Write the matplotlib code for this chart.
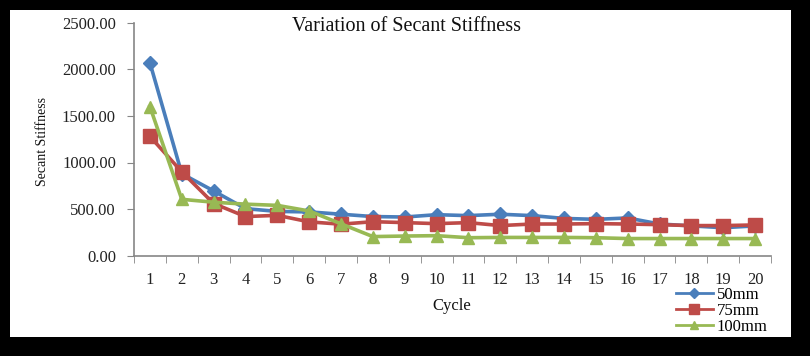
import matplotlib
matplotlib.use("Agg")
import matplotlib.pyplot as plt
from matplotlib.patches import Rectangle

cycles = list(range(1, 21))
tick_labels = [str(c) for c in cycles]
s50 = [2070, 880, 695, 505, 475, 470, 445, 420, 415, 440, 430, 445, 430, 400, 390, 405, 340, 320, 300, 320]
s75 = [1280, 900, 560, 420, 433, 363, 338, 365, 355, 344, 355, 323, 340, 340, 344, 340, 333, 323, 323, 330]
s100 = [1600, 605, 574, 553, 540, 480, 342, 205, 211, 215, 193, 196, 196, 196, 193, 184, 184, 184, 184, 184]
names = ["50mm", "75mm", "100mm"]
yticks = [0, 500, 1000, 1500, 2000, 2500]

W, H = 810, 356
fig = plt.figure(figsize=(W / 100, H / 100), dpi=100)
fig.patch.set_facecolor("black")
fig.patches.append(Rectangle((10 / W, 1 - 336.5 / H), (791 - 10) / W, (336.5 - 10) / H,
                             transform=fig.transFigure, facecolor="white", edgecolor="none", zorder=-10))

font = "Liberation Serif"
ax = fig.add_axes([134 / W, 1 - 255.7 / H, (771 - 134) / W, (255.7 - 22.7) / H])
ax.set_facecolor("none")

x = list(range(len(cycles)))
colors = ["#4A7EBB", "#BE4B48", "#98B954"]
markers = ["D", "s", "^"]
msizes = [7, 10, 9]
for ys, c, m, ms, n in zip([s50, s75, s100], colors, markers, msizes, names):
    ax.plot(x, ys, color=c, lw=2.6, marker=m, markersize=ms, markeredgecolor=c,
            markerfacecolor=c, label=n, zorder=3)

ax.set_xlim(-0.5, len(cycles) - 0.5)
ax.set_ylim(0, 2500)
ax.set_yticks(yticks)
ax.set_yticklabels([f"{v:.2f}" for v in yticks], fontfamily=font, fontsize=12, color="#222222")
ax.set_xticks(x)
ax.set_xticklabels(tick_labels, fontfamily=font, fontsize=12, color="#222222")
ax.set_xticks([i - 0.5 for i in range(len(cycles) + 1)], minor=True)
ax.tick_params(axis="x", which="major", length=0, pad=11.5)
ax.tick_params(axis="x", which="minor", length=5, color="#868686", direction="out")
ax.tick_params(axis="y", length=5, color="#868686", direction="out", pad=8)
for side in ["top", "right"]:
    ax.spines[side].set_visible(False)
for side in ["left", "bottom"]:
    ax.spines[side].set_color("#868686")
    ax.spines[side].set_linewidth(1.2)

fig.text(406 / W, 1 - 26.7 / H, "Variation of Secant Stiffness", fontfamily=font, fontsize=14.5,
         ha="center", va="center", color="#111111")
fig.text(451.7 / W, 1 - 306 / H, "Cycle", fontfamily=font, fontsize=12, ha="center", va="center",
         color="#111111")
fig.text(43 / W, 1 - 141 / H, "Secant Stiffness", fontfamily=font, fontsize=10, rotation=90,
         ha="center", va="center", color="#111111")

leg = fig.legend(loc="upper left", bbox_to_anchor=(676 / W, 1 - 287 / H), frameon=False,
                 prop={"family": font, "size": 12}, handlelength=2.2, handletextpad=0.25,
                 labelspacing=0.0, borderpad=0, borderaxespad=0, markerscale=0.7)
for h in leg.legend_handles:
    h.set_linewidth(2)

fig.savefig("out.png", dpi=100, facecolor=fig.get_facecolor())
